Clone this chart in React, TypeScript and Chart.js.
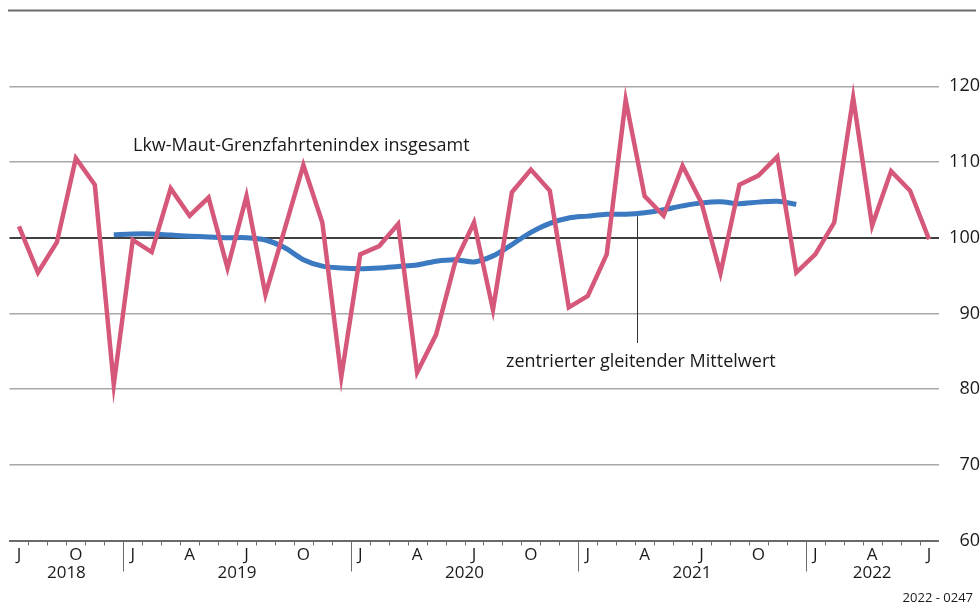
import { useEffect, useRef } from 'react';
import { Chart, registerables } from 'chart.js';

Chart.register(...registerables);

const categories = [
  '2018-07', '2018-08', '2018-09', '2018-10', '2018-11', '2018-12',
  '2019-01', '2019-02', '2019-03', '2019-04', '2019-05', '2019-06',
  '2019-07', '2019-08', '2019-09', '2019-10', '2019-11', '2019-12',
  '2020-01', '2020-02', '2020-03', '2020-04', '2020-05', '2020-06',
  '2020-07', '2020-08', '2020-09', '2020-10', '2020-11', '2020-12',
  '2021-01', '2021-02', '2021-03', '2021-04', '2021-05', '2021-06',
  '2021-07', '2021-08', '2021-09', '2021-10', '2021-11', '2021-12',
  '2022-01', '2022-02', '2022-03', '2022-04', '2022-05', '2022-06',
  '2022-07',
];

const tickLabels = [
  'J', '', '', 'O', '', '',
  'J', '', '', 'A', '', '', 'J', '', '', 'O', '', '',
  'J', '', '', 'A', '', '', 'J', '', '', 'O', '', '',
  'J', '', '', 'A', '', '', 'J', '', '', 'O', '', '',
  'J', '', '', 'A', '', '', 'J',
];

const years = ['2018', '2019', '2020', '2021', '2022'];

const indexValues = [
  101.5, 95.4, 99.4, 110.5, 107.0, 80.6,
  99.7, 98.1, 106.5, 102.9, 105.3, 96.0,
  105.5, 92.5, 101.0, 109.6, 102.0, 81.6,
  97.8, 98.9, 101.8, 82.2, 87.2, 96.7,
  102.0, 90.5, 106.0, 109.0, 106.2, 90.8,
  92.3, 97.8, 118.2, 105.5, 102.9, 109.5,
  104.6, 95.3, 107.0, 108.2, 110.7, 95.4,
  97.8, 102.0, 118.5, 101.6, 108.8, 106.2,
  99.8,
];

const movingAverage = [
  null, null, null, null, null, 100.4,
  100.5, 100.5, 100.35, 100.2, 100.1, 100.0,
  100.0, 99.7, 98.7, 97.1, 96.25, 96.0,
  95.9, 96.0, 96.2, 96.4, 96.9, 97.1,
  96.8, 97.6, 99.1, 100.7, 101.9, 102.6,
  102.85, 103.1, 103.1, 103.3, 103.7, 104.2,
  104.6, 104.75, 104.5, 104.7, 104.8, 104.4,
  null, null, null, null, null, null,
  null,
];

const yMin = 60;
const yMax = 130;
const yStep = 10;
const referenceValue = 100;

const seriesLabel = 'Lkw-Maut-Grenzfahrtenindex insgesamt';
const averageLabel = 'zentrierter gleitender Mittelwert';
const sourceNote = '2022 - 0247';

const FONT = '"Open Sans", "Noto Sans", sans-serif';
const PINK = '#d5577a';
const BLUE = '#3b79c1';

const decorPlugin = {
  id: 'decor',
  afterDraw(chart: any) {
    const { ctx, chartArea, scales } = chart;
    const xs = scales.x;
    const ys = scales.y;
    ctx.save();

    // top border line
    const yTop = ys.getPixelForValue(yMax);
    ctx.strokeStyle = '#6b6b6b';
    ctx.lineWidth = 2;
    ctx.beginPath();
    ctx.moveTo(8, yTop);
    ctx.lineTo(976, yTop);
    ctx.stroke();

    // month tick marks and year separators
    const bottom = chartArea.bottom;
    for (let i = 1; i < categories.length; i++) {
      const x = Math.round((xs.getPixelForValue(i - 1) + xs.getPixelForValue(i)) / 2) + 0.5;
      const isJan = categories[i].endsWith('-01');
      ctx.strokeStyle = '#6b6b6b';
      ctx.lineWidth = 1;
      ctx.beginPath();
      ctx.moveTo(x, bottom);
      ctx.lineTo(x, bottom + (isJan ? 31 : 5));
      ctx.stroke();
    }

    // year labels
    ctx.fillStyle = '#1a1a1a';
    ctx.font = `17px ${FONT}`;
    ctx.textAlign = 'center';
    ctx.textBaseline = 'middle';
    years.forEach((yr) => {
      const idx = categories.map((c, i) => (c.startsWith(yr) ? i : -1)).filter((i) => i >= 0);
      const x = (xs.getPixelForValue(idx[0]) + xs.getPixelForValue(idx[idx.length - 1])) / 2;
      ctx.fillText(yr, x, bottom + 33);
    });

    // series annotation
    ctx.textAlign = 'left';
    ctx.font = `18px ${FONT}`;
    ctx.fillText(seriesLabel, 133, 146);

    // moving average leader line and label
    const lx = Math.round(xs.getPixelForValue(32.6)) + 0.5;
    ctx.strokeStyle = '#333';
    ctx.lineWidth = 1;
    ctx.beginPath();
    ctx.moveTo(lx, ys.getPixelForValue(103.1) + 2);
    ctx.lineTo(lx, 343);
    ctx.stroke();
    ctx.fillText(averageLabel, 506, 362);

    // source note
    ctx.font = `13px ${FONT}`;
    ctx.textAlign = 'right';
    ctx.fillText(sourceNote, 973, 598);

    ctx.restore();
  },
};

export default function App() {
  const canvasRef = useRef<HTMLCanvasElement | null>(null);

  useEffect(() => {
    if (!canvasRef.current) return;
    const chart = new Chart(canvasRef.current, {
      type: 'line',
      data: {
        labels: categories,
        datasets: [
          {
            label: averageLabel,
            data: movingAverage,
            borderColor: BLUE,
            borderWidth: 5,
            pointRadius: 0,
            tension: 0.3,
            spanGaps: false,
            order: 2,
          },
          {
            label: seriesLabel,
            data: indexValues,
            borderColor: PINK,
            borderWidth: 4.5,
            pointRadius: 0,
            tension: 0,
            borderJoinStyle: 'miter',
            order: 1,
          },
        ],
      },
      options: {
        animation: false,
        responsive: false,
        maintainAspectRatio: false,
        layout: { padding: { left: 9.5, top: 10.6, right: 0, bottom: 0 } },
        plugins: {
          legend: { display: false },
          tooltip: { enabled: false },
        },
        scales: {
          x: {
            type: 'category',
            offset: true,
            grid: { display: false, offset: true, drawTicks: false, tickLength: 0 },
            border: { display: true, color: '#6b6b6b', width: 2 },
            ticks: {
              autoSkip: false,
              maxRotation: 0,
              minRotation: 0,
              padding: 4,
              color: '#1a1a1a',
              font: { family: FONT, size: 17 },
              callback: (_v: any, i: number) => tickLabels[i],
            },
            afterFit: (s: any) => {
              s.height = 65.5;
            },
          },
          y: {
            position: 'right',
            min: yMin,
            max: yMax,
            border: { display: false },
            grid: {
              drawTicks: false,
              lineWidth: (c: any) => (c.tick && c.tick.value === referenceValue ? 2 : 1.5),
              color: (c: any) => {
                const v = c.tick && c.tick.value;
                if (v === referenceValue) return '#404040';
                if (v === yMax || v === yMin) return 'rgba(0,0,0,0)';
                return '#a8a8a8';
              },
            },
            ticks: {
              stepSize: yStep,
              padding: 3,
              crossAlign: 'far',
              color: '#1a1a1a',
              font: { family: FONT, size: 18 },
              callback: (v: any) => (v === yMax ? '' : String(v)),
            },
            afterFit: (s: any) => {
              s.width = 41.5;
              s.paddingTop = 0;
            },
          },
        },
      },
      plugins: [decorPlugin],
    });
    return () => chart.destroy();
  }, []);

  return (
    <div style={{ position: 'fixed', left: 0, top: 0, width: 980, height: 606, background: '#fff' }}>
      <canvas ref={canvasRef} width={980} height={606} style={{ width: 980, height: 606 }} />
    </div>
  );
}
